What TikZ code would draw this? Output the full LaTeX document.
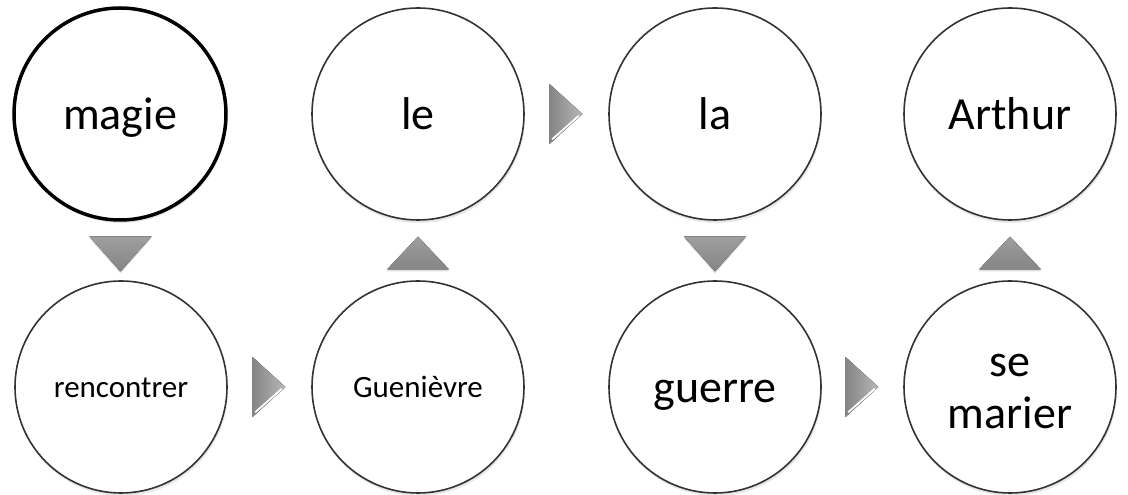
\documentclass[tikz,border=0pt]{standalone}
\usepackage{fontspec}
\setmainfont{Carlito}
\usetikzlibrary{calc,shadows}

\begin{document}
\begin{tikzpicture}[x=1pt,y=1pt,
  bubble/.style={circle,draw=black!80,line width=1.6pt,fill=white,minimum size=212pt,inner sep=0pt,align=center,
    drop shadow={opacity=0.18,shadow xshift=1pt,shadow yshift=-3pt}},
  big/.style={font=\fontsize{46}{52}\selectfont,text height=32pt,text depth=0pt},
  small/.style={font=\fontsize{31}{36}\selectfont,text height=21pt,text depth=0pt},
  arrowvert/.style={top color=black!38,bottom color=black!48,
    drop shadow={opacity=0.25,shadow xshift=0pt,shadow yshift=-2pt}},
  arrowside/.style={left color=black!48,right color=black!28},
  gleam/.style={white,line width=1.8pt,line cap=round}]
\useasboundingbox (0,0) rectangle (1128,495);

\node[bubble,big,draw=black,line width=3.5pt] (magie) at (120,381) {magie};
\node[bubble,big] (le) at (418,381) {le};
\node[bubble,big] (la) at (715,381) {la};
\node[bubble,big] (arthur) at (1010,381) {Arthur};
\node[bubble,small] (renc) at (121,108) {rencontrer};
\node[bubble,small] (guen) at (418,108) {Guenièvre};
\node[bubble,big] (guerre) at (715,108) {guerre};
\node[bubble,big,text height=84pt] (marier) at (1010,108) {se\\marier};

% down and up
\coordinate (d1) at ($(magie)!0.5!(renc)$);
\fill[arrowvert] ($(d1)+(-31,14)$) -- ($(d1)+(31,14)$) -- ($(d1)+(0,-21)$) -- cycle;
\coordinate (u1) at ($(guen)!0.5!(le)$);
\fill[arrowvert] ($(u1)+(-31,-19)$) -- ($(u1)+(31,-19)$) -- ($(u1)+(0,14)$) -- cycle;
\coordinate (d2) at ($(la)!0.5!(guerre)$);
\fill[arrowvert] ($(d2)+(-31,14)$) -- ($(d2)+(31,14)$) -- ($(d2)+(0,-21)$) -- cycle;
\coordinate (u2) at ($(marier)!0.5!(arthur)$);
\fill[arrowvert] ($(u2)+(-31,-19)$) -- ($(u2)+(31,-19)$) -- ($(u2)+(0,14)$) -- cycle;

% sideways
\coordinate (s1) at ($(renc)!0.5!(guen)$);
\fill[arrowside] ($(s1)+(-17,30)$) -- ($(s1)+(16,0)$) -- ($(s1)+(-17,-30)$) -- cycle;
\draw[gleam] ($(s1)+(-14,-25)$) -- ($(s1)+(12,-2)$);
\coordinate (s2) at ($(le)!0.5!(la)$);
\fill[arrowside] ($(s2)+(-17,30)$) -- ($(s2)+(16,0)$) -- ($(s2)+(-17,-30)$) -- cycle;
\draw[gleam] ($(s2)+(-14,-25)$) -- ($(s2)+(12,-2)$);
\coordinate (s3) at ($(guerre)!0.5!(marier)$);
\fill[arrowside] ($(s3)+(-17,30)$) -- ($(s3)+(16,0)$) -- ($(s3)+(-17,-30)$) -- cycle;
\draw[gleam] ($(s3)+(-14,-25)$) -- ($(s3)+(12,-2)$);
\end{tikzpicture}
\end{document}
